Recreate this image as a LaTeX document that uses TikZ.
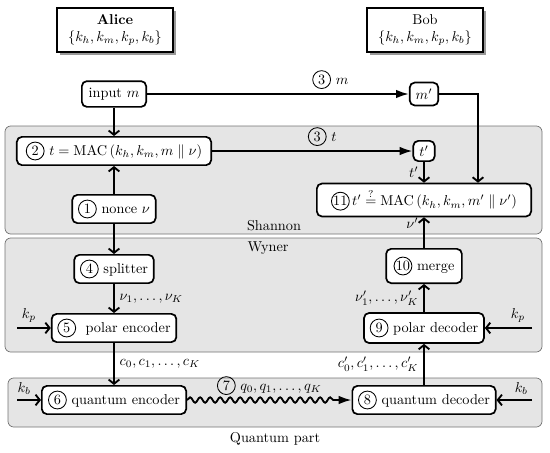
\documentclass[tikz,border=0pt]{standalone}
\usepackage{amsmath,amssymb}
\usetikzlibrary{arrows.meta, positioning, calc, shadows, decorations.pathmorphing}

\tikzset{
  blk/.style={draw, fill=white, rounded corners=3.5pt, line width=1.2pt, minimum height=18pt, inner xsep=4pt},
  party/.style={draw, fill=white, line width=1.1pt, align=center, minimum width=81pt, minimum height=31pt,
    drop shadow={shadow xshift=2pt, shadow yshift=-2pt, fill=black!40, opacity=1}},
  region/.style={fill=black!10, draw=black!55, line width=0.5pt, rounded corners=4pt},
  arr/.style={line width=1.3pt, -{Straight Barb[length=3pt,width=7.5pt]}},
  farr/.style={line width=1.3pt, -{Latex[length=9pt,width=6pt]}},
}
\newcommand{\stepno}[1]{\tikz[baseline=(stepc.base)]\node[draw, circle, fill=none, sharp corners, line width=0.6pt, inner sep=0pt, minimum size=12.5pt] (stepc) {#1};}

\begin{document}
\begin{tikzpicture}[x=0.7pt, y=-0.7pt]
\useasboundingbox (0,0) rectangle (550,452);
% regions
\draw[region] (5,126) rectangle (542,234);
\draw[region] (5,238) rectangle (542,352);
\draw[region] (8,378) rectangle (542,427);
\node (lshannon) at (274,226) {Shannon};
\node (lwyner) at (268,248) {Wyner};
\node (lquantum) at (275,439) {Quantum part};
% parties
\node[party] (alice) at (115,30) {\textbf{Alice}\\$\{k_h, k_m, k_p, k_b\}$};
\node[party] (bob) at (425,30) {Bob\\$\{k_h, k_m, k_p, k_b\}$};
% Alice side
\node[blk, minimum width=45pt] (inp) at (114,94) {input $m$};
\node[blk, minimum width=136pt, minimum height=19.5pt] (mac) at (114,151) {\stepno{2} $t = \mathrm{MAC}\left(k_h, k_m, m \parallel \nu\right)$};
\node[blk, minimum width=56pt, minimum height=19pt] (nonce) at (114,209) {\stepno{1} nonce $\nu$};
\node[blk, minimum width=55pt] (split) at (114,269) {\stepno{4} splitter};
\node[blk, minimum width=86pt, minimum height=19.5pt] (penc) at (114,328) {\stepno{5}\ \ polar encoder};
\node[blk, minimum width=101pt] (qenc) at (114,400) {\stepno{6} quantum encoder};
% Bob side
\node[blk, minimum width=20pt, minimum height=16pt, inner xsep=2pt] (mp) at (424,94) {$m'$};
\node[blk, minimum width=15pt, minimum height=14pt, inner xsep=2pt] (tp) at (424,151) {$t'$};
\node[blk, minimum width=150pt, minimum height=23pt] (chk) at (424,200) {\stepno{11}\,$t' \overset{?}{=} \mathrm{MAC}\left(k_h, k_m, m' \parallel \nu'\right)$};
\node[blk, minimum width=53pt, minimum height=24pt] (merge) at (424,266) {\stepno{10} merge};
\node[blk, minimum width=83pt, minimum height=21pt] (pdec) at (424,328) {\stepno{9} polar decoder};
\node[blk, minimum width=100pt] (qdec) at (424,400) {\stepno{8} quantum decoder};
% key inputs
\coordinate (kpl) at (17,328);
\coordinate (kpr) at (532,328);
\coordinate (kbl) at (17,400);
\coordinate (kbr) at (532,400);
% connectors
\draw[farr] (inp) -- node[above, pos=0.7] {\stepno{3} $m$} (mp);
\draw[arr] (mp.east) -| ([xshift=37.8pt]chk.north);
\draw[arr] (inp) -- (mac);
\draw[arr] (nonce) -- (mac);
\draw[farr] (mac) -- node[above, pos=0.55] {\stepno{3} $t$} (tp);
\draw[arr] (tp) -- node[left] {$t'$} (chk);
\draw[arr] (nonce) -- (split);
\draw[arr] (split) -- node[right] {$\nu_1, \ldots, \nu_K$} (penc);
\draw[arr] (penc) -- node[right] {$c_0, c_1, \ldots, c_K$} (qenc);
\draw[farr, decorate, decoration={snake, amplitude=1.9pt, segment length=7pt, post length=10pt}]
  (qenc) -- node[above=0pt] {\stepno{7} $q_0, q_1, \ldots, q_K$} (qdec);
\draw[arr] (qdec) -- node[left] {$c'_0, c'_1, \ldots, c'_K$} (pdec);
\draw[arr] (pdec) -- node[left] {$\nu'_1, \ldots, \nu'_K$} (merge);
\draw[arr] (merge) -- node[left, pos=0.8] {$\nu'$} (chk);
\draw[arr] (kpl) -- node[above, pos=0.35] {$k_p$} (penc);
\draw[arr] (kpr) -- node[above, pos=0.3] {$k_p$} (pdec);
\draw[arr] (kbl) -- node[above, pos=0.3] {$k_b$} (qenc);
\draw[arr] (kbr) -- node[above, pos=0.3] {$k_b$} (qdec);
\end{tikzpicture}
\end{document}
